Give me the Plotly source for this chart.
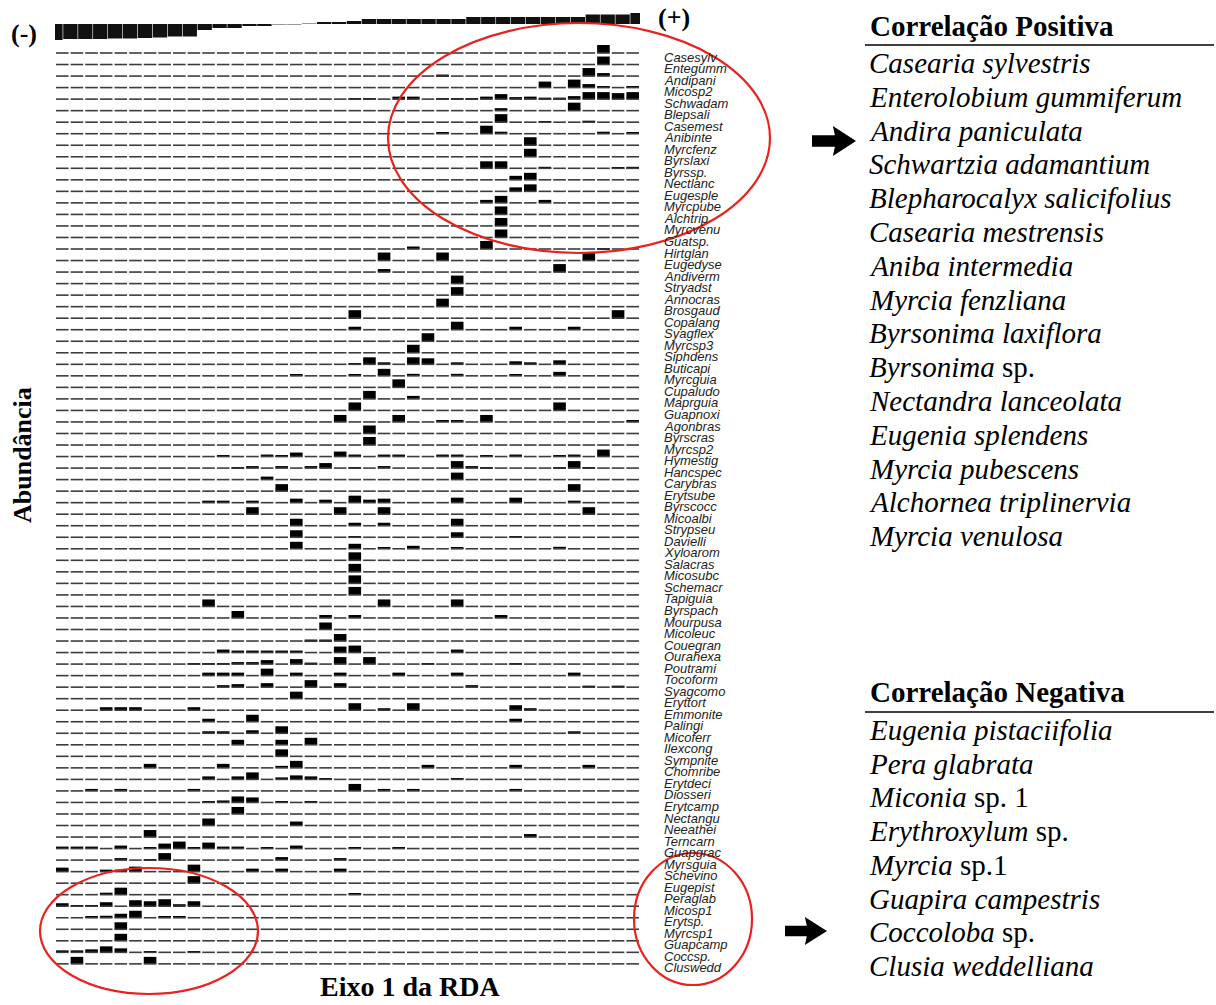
import plotly.graph_objects as go

W, H = 1216, 1005

# Espécies ordenadas pelo escore no eixo 1 da RDA (de cima para baixo)
especies = [
    "Casesylv", "Entegumm", "Andipani", "Micosp2", "Schwadam", "Blepsali", "Casemest", "Anibinte",
    "Myrcfenz", "Byrslaxi", "Byrssp.", "Nectlanc", "Eugesple", "Myrcpube", "Alchtrip", "Myrcvenu",
    "Guatsp.", "Hirtglan", "Eugedyse", "Andiverm", "Stryadst", "Annocras", "Brosgaud", "Copalang",
    "Syagflex", "Myrcsp3", "Siphdens", "Buticapi", "Myrcguia", "Cupaludo", "Maprguia", "Guapnoxi",
    "Agonbras", "Byrscras", "Myrcsp2", "Hymestig", "Hancspec", "Carybras", "Erytsube", "Byrscocc",
    "Micoalbi", "Strypseu", "Davielli", "Xyloarom", "Salacras", "Micosubc", "Schemacr", "Tapiguia",
    "Byrspach", "Mourpusa", "Micoleuc", "Couegran", "Ourahexa", "Poutrami", "Tocoform", "Syagcomo",
    "Eryttort", "Emmonite", "Palingi", "Micoferr", "Ilexcong", "Sympnite", "Chomribe", "Erytdeci",
    "Diosseri", "Erytcamp", "Nectangu", "Neeathei", "Terncarn", "Guapgrac", "Myrsguia", "Schevino",
    "Eugepist", "Peraglab", "Micosp1", "Erytsp.", "Myrcsp1", "Guapcamp", "Coccsp.", "Cluswedd",
]

# Abundância por parcela (índice da parcela ordenada no eixo 1 : abundância)
abundancia = [
    {37: 8}, {37: 8}, {26: 1.5, 36: 8, 37: 3}, {33: 6, 35: 8, 36: 3.5, 37: 1, 39: 1.5},
    {20: 1, 21: 1, 23: 2.5, 24: 2.5, 26: 1, 27: 1, 28: 1, 29: 2.5, 30: 5, 31: 2, 32: 2.5,
     33: 1.5, 34: 1.5, 35: 3, 36: 7, 37: 7, 38: 6, 39: 7},
    {30: 2.5, 35: 8}, {30: 8, 33: 1, 36: 1.5}, {26: 1, 29: 8, 30: 2, 37: 2, 39: 1},
    {32: 8}, {32: 8}, {29: 7, 30: 7, 33: 1.5, 38: 1, 39: 1.5}, {31: 4, 32: 7},
    {31: 4, 32: 7}, {29: 3, 30: 7, 33: 3}, {30: 8}, {30: 8},
    {30: 8}, {24: 2.5, 29: 8, 37: 1}, {22: 8, 26: 8, 36: 8}, {22: 3, 34: 8},
    {27: 8}, {27: 8}, {26: 8}, {20: 8, 38: 8},
    {20: 3, 27: 8, 31: 3, 35: 3}, {25: 8}, {24: 8},
    {20: 1, 21: 7, 22: 2, 24: 7, 25: 6, 27: 2, 31: 3, 32: 2, 34: 4},
    {16: 1, 20: 1.5, 22: 7, 24: 2, 27: 2, 31: 1.5, 34: 4}, {23: 8}, {21: 8, 24: 3}, {20: 8, 34: 8},
    {19: 7, 23: 7, 26: 1, 27: 1, 29: 7, 39: 1}, {21: 8}, {21: 8},
    {11: 1, 14: 2, 15: 1, 16: 4, 19: 5, 20: 2, 22: 2, 23: 2, 26: 2, 27: 2, 29: 1, 31: 2,
     34: 1, 35: 2, 37: 7},
    {12: 1, 13: 2, 15: 2, 17: 2, 18: 5, 20: 1, 22: 2, 27: 7, 28: 2, 29: 1, 34: 1, 35: 7, 36: 1},
    {14: 3, 27: 7}, {15: 7, 35: 7},
    {10: 2, 11: 2, 13: 2, 16: 4, 18: 3, 20: 7, 21: 3, 22: 4, 27: 5, 31: 5, 35: 2},
    {13: 7, 19: 7, 22: 7, 36: 7}, {16: 7, 20: 3, 22: 3, 27: 7}, {16: 7, 20: 1, 27: 5, 31: 1},
    {16: 7, 20: 5, 22: 1, 24: 3, 27: 1, 34: 2}, {20: 8}, {20: 8}, {20: 8}, {20: 8},
    {10: 7, 22: 7, 27: 7}, {12: 7, 18: 3, 20: 3, 30: 3}, {18: 7}, {17: 1.5, 18: 1.5, 19: 7},
    {11: 3, 12: 2, 13: 2, 14: 2, 15: 2, 16: 2, 19: 6, 20: 7, 27: 3},
    {9: 1, 10: 1, 11: 1, 12: 2, 13: 2, 14: 4, 16: 5, 17: 1.5, 19: 7, 21: 7, 25: 1, 31: 1},
    {10: 3, 11: 3, 12: 3, 14: 7, 16: 3, 19: 3, 23: 3, 27: 3, 35: 3},
    {11: 2, 12: 3, 14: 4, 17: 7, 19: 4, 28: 2, 36: 1.5, 38: 1.5},
    {16: 7}, {3: 3, 4: 3, 5: 3, 9: 3, 20: 7, 22: 2, 24: 7, 31: 5, 32: 2},
    {10: 3, 13: 7, 31: 3}, {10: 2, 11: 2, 13: 3, 15: 7, 35: 2}, {12: 5, 15: 5, 17: 7}, {15: 7},
    {6: 4, 11: 4, 15: 2, 16: 7, 25: 3, 31: 3, 36: 3},
    {10: 3, 12: 3, 13: 7, 15: 2, 16: 4, 17: 3, 18: 1, 27: 1},
    {2: 2, 4: 2, 9: 2, 20: 7, 22: 2, 24: 2, 31: 2}, {10: 1, 11: 2, 12: 6, 13: 5, 15: 1, 17: 1},
    {12: 7}, {10: 7, 16: 4}, {6: 7, 32: 3},
    {0: 2, 1: 2, 2: 2, 4: 3, 6: 1, 7: 5, 8: 7, 9: 1, 10: 6, 11: 2, 12: 2, 14: 1.5, 16: 3,
     20: 1, 23: 1},
    {4: 2, 6: 1, 7: 7, 15: 3, 19: 2}, {0: 4, 3: 2, 4: 2, 5: 5, 9: 7, 13: 3, 15: 3, 19: 3},
    {9: 7}, {3: 2, 4: 7, 20: 1}, {0: 3, 1: 1, 2: 1, 3: 4, 5: 6, 6: 5, 7: 7, 8: 2, 9: 5},
    {2: 1, 3: 2, 4: 4, 5: 7, 7: 1, 8: 1}, {4: 7}, {4: 7},
    {0: 2, 1: 2, 2: 3, 3: 6, 4: 4, 6: 1, 9: 1}, {1: 7, 6: 7},
]

# Escores das 40 parcelas no eixo 1 da RDA (barra de gradiente no topo)
escores_eixo1 = [-16, -15, -15, -15, -14.5, -14.5, -14, -13.5, -12.5, -12.5,
                 -6, -4, -4, -2, -2, -0.8, -0.6, 0.6, 1.5, 1.5,
                 3, 5, 5, 5, 5, 5, 5, 5, 7, 7,
                 7, 7, 7, 7, 7, 7, 9.5, 9.5, 9.5, 11]

correlacao_positiva = [
    "<i>Casearia sylvestris</i>", "<i>Enterolobium gummiferum</i>", "<i>Andira paniculata</i>",
    "<i>Schwartzia adamantium</i>", "<i>Blepharocalyx salicifolius</i>", "<i>Casearia mestrensis</i>",
    "<i>Aniba intermedia</i>", "<i>Myrcia fenzliana</i>", "<i>Byrsonima laxiflora</i>",
    "<i>Byrsonima</i> sp.", "<i>Nectandra lanceolata</i>", "<i>Eugenia splendens</i>",
    "<i>Myrcia pubescens</i>", "<i>Alchornea triplinervia</i>", "<i>Myrcia venulosa</i>",
]
correlacao_negativa = [
    "<i>Eugenia pistaciifolia</i>", "<i>Pera glabrata</i>", "<i>Miconia</i> sp. 1",
    "<i>Erythroxylum</i> sp.", "<i>Myrcia</i> sp.1", "<i>Guapira campestris</i>",
    "<i>Coccoloba</i> sp.", "<i>Clusia weddelliana</i>",
]

n_parc = len(escores_eixo1)
ROW_PX = 11.53            # altura de cada linha de espécie em pixels
UNIT = 1.0 / ROW_PX       # uma unidade de abundância = 1 px
Y_TOP = -1 + 53 / ROW_PX
Y_BOT = Y_TOP - H / ROW_PX


def px(x):
    return x / W


def py(y):
    return 1 - y / H


fig = go.Figure()

# Linhas de base tracejadas (um segmento por parcela)
lx, ly = [], []
for k in range(len(especies)):
    yk = -(k + 1)
    for i in range(n_parc):
        lx += [i - 0.43, i + 0.43, None]
        ly += [yk, yk, None]
fig.add_trace(go.Scatter(x=lx, y=ly, mode="lines", line=dict(color="#3c3c3c", width=1.6),
                         hoverinfo="skip", showlegend=False))

# Barras de abundância
bx, bh, bb = [], [], []
for k, d in enumerate(abundancia):
    for i, v in d.items():
        bx.append(i)
        bh.append(v * UNIT)
        bb.append(-(k + 1))
fig.add_trace(go.Bar(x=bx, y=bh, base=bb, width=0.86, marker=dict(color="black", line=dict(width=0)),
                     showlegend=False, hoverinfo="skip"))

# Gradiente do eixo 1 no topo
base_grad = Y_TOP - 24 / ROW_PX
fig.add_trace(go.Bar(x=list(range(n_parc)), y=[s * UNIT for s in escores_eixo1], base=base_grad,
                     width=0.96, xaxis="x2",
                     marker=dict(color=["#111" if abs(s) > 1 else "#999" for s in escores_eixo1],
                                 line=dict(width=0)),
                     showlegend=False, hoverinfo="skip"))

dom = [55 / W, 640 / W]
s2 = 597 / 40
a2 = -0.5 + 7 / s2
b2 = a2 + 585 / s2

fig.update_layout(
    width=W, height=H, margin=dict(l=0, r=0, t=0, b=0),
    paper_bgcolor="white", plot_bgcolor="white", barmode="overlay",
    xaxis=dict(domain=dom, range=[-0.5, n_parc - 0.5], visible=False, fixedrange=True),
    xaxis2=dict(domain=dom, range=[a2, b2], visible=False, overlaying="x", anchor="y"),
    yaxis=dict(domain=[0, 1], range=[Y_BOT, Y_TOP], visible=False),
)

ann = []
# Rótulos das espécies
for k, nome in enumerate(especies):
    ann.append(dict(x=px(662), xref="paper", y=-(k + 1) - 0.35, yref="y", text=nome,
                    showarrow=False, xanchor="left", yanchor="middle",
                    font=dict(family="Liberation Sans", size=13, color="#222", style="italic")))

serif = "Liberation Serif"
ann += [
    dict(x=px(24), y=py(33), text="<b>(-)</b>", font=dict(family=serif, size=26, color="black")),
    dict(x=px(674), y=py(18), text="<b>(+)</b>", font=dict(family=serif, size=26, color="black")),
    dict(x=px(22), y=py(455), text="<b>Abundância</b>", textangle=-90,
         font=dict(family=serif, size=26, color="black")),
    dict(x=px(410), y=py(1004), text="<b>Eixo 1 da RDA</b>", yanchor="bottom",
         font=dict(family=serif, size=28, color="black")),
    dict(x=px(868), y=py(26), text="<b>Correlação Positiva</b>", xanchor="left",
         font=dict(family=serif, size=29, color="black")),
    dict(x=px(868), y=py(692), text="<b>Correlação Negativa</b>", xanchor="left",
         font=dict(family=serif, size=29, color="black")),
]
for j, t in enumerate(correlacao_positiva):
    ann.append(dict(x=px(867), y=py(63 + j * 33.8), text=t, xanchor="left",
                    font=dict(family=serif, size=29, color="black")))
for j, t in enumerate(correlacao_negativa):
    ann.append(dict(x=px(867), y=py(730 + j * 33.7), text=t, xanchor="left",
                    font=dict(family=serif, size=29, color="black")))
for a in ann:
    a.setdefault("xref", "paper")
    a.setdefault("yref", "paper")
    a.setdefault("showarrow", False)
    a.setdefault("yanchor", "middle")
    a.setdefault("xanchor", "center")
fig.update_layout(annotations=ann)


def seta(x0, yc, comp, alt):
    # seta preta cheia apontando para a direita
    hs = alt * 0.19
    xh = x0 + comp * 0.52
    pts = [(x0, yc - hs), (xh, yc - hs), (xh - 2, yc - alt / 2), (x0 + comp, yc),
           (xh - 2, yc + alt / 2), (xh, yc + hs), (x0, yc + hs)]
    return "M " + " L ".join(f"{px(x):.5f},{py(y):.5f}" for x, y in pts) + " Z"


shapes = [
    dict(type="line", xref="paper", yref="paper", x0=px(865), x1=px(1214), y0=py(45), y1=py(45),
         line=dict(color="black", width=1.5)),
    dict(type="line", xref="paper", yref="paper", x0=px(865), x1=px(1214), y0=py(712), y1=py(712),
         line=dict(color="black", width=1.5)),
    dict(type="path", xref="paper", yref="paper", path=seta(812, 141, 44, 30),
         fillcolor="black", line=dict(width=0)),
    dict(type="path", xref="paper", yref="paper", path=seta(785, 931, 42, 28),
         fillcolor="black", line=dict(width=0)),
]
for cx, cy, rx, ry in [(579, 138, 191, 115), (149, 931, 109, 63), (693, 919, 59, 66)]:
    shapes.append(dict(type="circle", xref="paper", yref="paper",
                       x0=px(cx - rx), x1=px(cx + rx), y0=py(cy + ry), y1=py(cy - ry),
                       line=dict(color="#e8231f", width=2.2)))
fig.update_layout(shapes=shapes)

fig.write_html("out.html")
